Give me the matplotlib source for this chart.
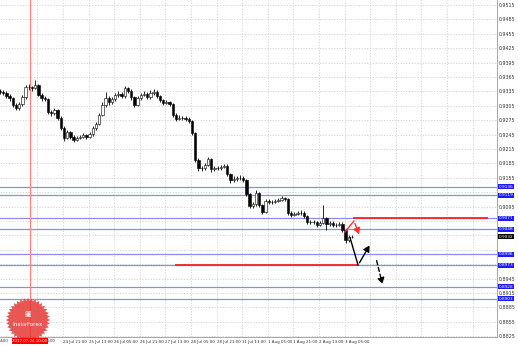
import numpy as np
import matplotlib
matplotlib.use("Agg")
import matplotlib.pyplot as plt
from matplotlib.path import Path

# hourly-ish candles (price)
closes = [0.9334, 0.9332, 0.9325, 0.9321, 0.9307, 0.9300, 0.9309, 0.9323, 0.9344, 0.9344,
          0.9342, 0.9348, 0.9328, 0.9321, 0.9319, 0.9292, 0.9290, 0.9296, 0.9280, 0.9259,
          0.9238, 0.9250, 0.9240, 0.9234, 0.9238, 0.9240, 0.9244, 0.9240, 0.9246, 0.9259,
          0.9267, 0.9286, 0.9307, 0.9321, 0.9313, 0.9319, 0.9328, 0.9330, 0.9325, 0.9342,
          0.9336, 0.9323, 0.9307, 0.9321, 0.9328, 0.9330, 0.9323, 0.9332, 0.9334, 0.9325,
          0.9317, 0.9311, 0.9313, 0.9309, 0.9286, 0.9278, 0.9280, 0.9280, 0.9278, 0.9273,
          0.9248, 0.9192, 0.9175, 0.9175, 0.9182, 0.9194, 0.9173, 0.9175, 0.9175, 0.9178,
          0.9180, 0.9163, 0.9150, 0.9153, 0.9155, 0.9155, 0.9150, 0.9121, 0.9096, 0.9100,
          0.9123, 0.9098, 0.9084, 0.9107, 0.9105, 0.9105, 0.9107, 0.9109, 0.9113, 0.9111,
          0.9082, 0.9078, 0.9080, 0.9082, 0.9082, 0.9075, 0.9063, 0.9063, 0.9063, 0.9057,
          0.9061, 0.9071, 0.9059, 0.9061, 0.9057, 0.9057, 0.9059, 0.9046, 0.9025, 0.9032,
          0.9032]
highs = [0.9340, 0.9338, 0.9336, 0.9329, 0.9324, 0.9311, 0.9313, 0.9327, 0.9348, 0.9350,
         0.9347, 0.9359, 0.9351, 0.9332, 0.9325, 0.9322, 0.9297, 0.9301, 0.9299, 0.9284,
         0.9262, 0.9254, 0.9253, 0.9244, 0.9243, 0.9245, 0.9248, 0.9247, 0.9250, 0.9263,
         0.9271, 0.9290, 0.9312, 0.9333, 0.9325, 0.9323, 0.9332, 0.9335, 0.9334, 0.9346,
         0.9345, 0.9339, 0.9326, 0.9325, 0.9332, 0.9335, 0.9333, 0.9337, 0.9339, 0.9337,
         0.9328, 0.9320, 0.9317, 0.9316, 0.9311, 0.9289, 0.9285, 0.9284, 0.9284, 0.9282,
         0.9276, 0.9250, 0.9196, 0.9180, 0.9186, 0.9198, 0.9197, 0.9180, 0.9179, 0.9182,
         0.9184, 0.9183, 0.9166, 0.9158, 0.9159, 0.9160, 0.9159, 0.9153, 0.9124, 0.9104,
         0.9130, 0.9126, 0.9101, 0.9111, 0.9110, 0.9109, 0.9111, 0.9113, 0.9117, 0.9116,
         0.9113, 0.9086, 0.9084, 0.9086, 0.9087, 0.9085, 0.9078, 0.9068, 0.9067, 0.9066,
         0.9065, 0.9098, 0.9074, 0.9065, 0.9064, 0.9061, 0.9063, 0.9062, 0.9049, 0.9036,
         0.9036]
lows = [0.9329, 0.9327, 0.9321, 0.9315, 0.9303, 0.9296, 0.9297, 0.9305, 0.9320, 0.9338,
        0.9336, 0.9339, 0.9325, 0.9316, 0.9314, 0.9288, 0.9284, 0.9286, 0.9276, 0.9255,
        0.9231, 0.9235, 0.9236, 0.9229, 0.9231, 0.9235, 0.9237, 0.9236, 0.9237, 0.9243,
        0.9255, 0.9264, 0.9283, 0.9303, 0.9307, 0.9309, 0.9316, 0.9324, 0.9321, 0.9322,
        0.9331, 0.9318, 0.9302, 0.9304, 0.9318, 0.9325, 0.9319, 0.9320, 0.9328, 0.9321,
        0.9313, 0.9307, 0.9308, 0.9305, 0.9282, 0.9274, 0.9275, 0.9276, 0.9274, 0.9269,
        0.9244, 0.9187, 0.9170, 0.9170, 0.9172, 0.9179, 0.9168, 0.9170, 0.9171, 0.9172,
        0.9175, 0.9158, 0.9145, 0.9147, 0.9149, 0.9150, 0.9146, 0.9117, 0.9092, 0.9092,
        0.9097, 0.9094, 0.9079, 0.9081, 0.9101, 0.9100, 0.9102, 0.9104, 0.9106, 0.9107,
        0.9078, 0.9074, 0.9075, 0.9077, 0.9078, 0.9071, 0.9059, 0.9058, 0.9059, 0.9052,
        0.9054, 0.9058, 0.9047, 0.9055, 0.9053, 0.9053, 0.9054, 0.9042, 0.9020, 0.9022,
        0.9029]
first_open = 0.9336

x_tick_pos = [11.7, 19.7, 27.7, 35.7, 43.7, 51.7, 59.7, 67.7, 75.7, 83.7, 91.7, 99.7, 107.7,
              115.7, 123.7, 131.7, 139.7, 147.7]
x_tick_labels = ["", "24 Jul 21:00", "25 Jul 13:00", "26 Jul 05:00", "26 Jul 21:00",
                 "27 Jul 13:00", "28 Jul 05:00", "28 Jul 21:00", "31 Jul 13:00", "1 Aug 05:00",
                 "1 Aug 21:00", "2 Aug 13:00", "3 Aug 05:00", "", "", "", "", ""]
y_ticks = [0.9515, 0.9485, 0.9455, 0.9425, 0.9395, 0.9365, 0.9335, 0.9305, 0.9275, 0.9245,
           0.9215, 0.9185, 0.9155, 0.9125, 0.9095, 0.9065, 0.9035, 0.9005, 0.8975, 0.8945,
           0.8915, 0.8885, 0.8855, 0.8825]

blue_levels = [0.9136, 0.9119, 0.9071, 0.9048, 0.8996, 0.8973, 0.8928, 0.8903]
current_price = 0.9032
red_level_hi = (0.9071, 110.3, 152.5)
red_level_lo = (0.8973, 54.7, 111.9)
cursor_bar = 9.4
cursor_label = "2017.07.24 10:00"

red_arrow = ([107.8, 110.6, 112.5], [0.9042, 0.9065, 0.9032])
black_arrow = ([109.4, 111.9, 115.9], [0.9030, 0.8973, 0.9019])
dashed_arrow = ([117.5, 119.7], [0.8988, 0.8928])

opens = [first_open] + closes[:-1]
idx = np.arange(len(closes))

fig = plt.figure(figsize=(5.18, 3.46), dpi=100)
ax = fig.add_axes([0, 9 / 346, 497 / 518, 337 / 346])
ax.set_xlim(0, 497 / 3.2)
ax.set_ylim(0.88233, 0.95254)

# price scale labels hidden where a level box sits on top of them
tags = blue_levels + [current_price]
y_labels = []
for v in y_ticks:
    if min(abs(v - t) for t in tags) < 0.0011:
        y_labels.append("")
    else:
        y_labels.append("%.4f" % v)

ax.set_xticks(x_tick_pos)
ax.set_xticklabels(x_tick_labels, ha="left", fontsize=2.9, color="#333333")
ax.set_yticks(y_ticks)
ax.set_yticklabels(y_labels, fontsize=3.4, color="#333333")
ax.yaxis.tick_right()
ax.tick_params(axis="both", length=0, pad=1.5)
ax.tick_params(axis="x", pad=2)
ax.grid(True, color="#cccccc", linestyle=(0, (2, 2)), linewidth=0.5)
for s in ["left", "top"]:
    ax.spines[s].set_visible(False)
for s in ["right", "bottom"]:
    ax.spines[s].set_color("#999999")
    ax.spines[s].set_linewidth(0.6)

# level lines
for lv in blue_levels:
    ax.axhline(lv, color="#8c8cf0", linewidth=0.9, zorder=2)
    ax.text(1.004, lv, "%.4f" % lv, transform=ax.get_yaxis_transform(), fontsize=3.1,
            color="white", va="center", ha="left", clip_on=False, zorder=6,
            bbox=dict(boxstyle="square,pad=0.12", facecolor="#1a1aff", edgecolor="none"))
ax.text(1.004, current_price, "%.4f" % current_price, transform=ax.get_yaxis_transform(),
        fontsize=3.1, color="white", va="center", ha="left", clip_on=False, zorder=6,
        bbox=dict(boxstyle="square,pad=0.12", facecolor="black", edgecolor="none"))

ax.hlines(red_level_hi[0], red_level_hi[1], red_level_hi[2], color="#ff2020", linewidth=1.3, zorder=3)
ax.hlines(red_level_lo[0], red_level_lo[1], red_level_lo[2], color="#ff2020", linewidth=1.3, zorder=3)

# cursor line
ax.axvline(cursor_bar, color="#ff8080", linewidth=0.8, zorder=2)

# candles
ax.vlines(idx, lows, highs, color="black", linewidth=0.6, zorder=4)
up = np.array(closes) >= np.array(opens)
body = np.array(closes) - np.array(opens)
ax.bar(idx, body, bottom=opens, width=0.7, color=np.where(up, "white", "black"),
       edgecolor="black", linewidth=0.4, zorder=5)

# forecast arrows
ax.plot(red_arrow[0][:-1], red_arrow[1][:-1], color="#ff3030", linewidth=1.0, zorder=6)
ax.annotate("", xy=(red_arrow[0][-1], red_arrow[1][-1]), xytext=(red_arrow[0][-2], red_arrow[1][-2]),
            arrowprops=dict(arrowstyle="-|>,head_length=0.35,head_width=0.2", color="#ff3030", lw=1.0),
            zorder=6)
ax.plot(black_arrow[0][:-1], black_arrow[1][:-1], color="black", linewidth=1.0, zorder=6)
ax.annotate("", xy=(black_arrow[0][-1], black_arrow[1][-1]), xytext=(black_arrow[0][-2], black_arrow[1][-2]),
            arrowprops=dict(arrowstyle="-|>,head_length=0.35,head_width=0.2", color="black", lw=1.0),
            zorder=6)
ax.annotate("", xy=(dashed_arrow[0][-1], dashed_arrow[1][-1]), xytext=(dashed_arrow[0][0], dashed_arrow[1][0]),
            arrowprops=dict(arrowstyle="-|>,head_length=0.35,head_width=0.2", color="black", lw=1.0,
                            linestyle=(0, (3, 2))),
            zorder=6)

# cursor label on time axis
fig.text(30 / 518, 1 - 341 / 346, cursor_label, fontsize=2.9, color="white", ha="center", va="center",
         zorder=10, bbox=dict(boxstyle="square,pad=0.15", facecolor="#ff0000", edgecolor="none"))
fig.text(0.0, 1 - 341 / 346, "4:00", fontsize=2.9, color="#333333", ha="left", va="center")
fig.text(47 / 518, 1 - 341 / 346, "5:00", fontsize=2.9, color="#333333", ha="left", va="center")

# InstaForex badge
n = 72
ang = np.linspace(0, 2 * np.pi, n, endpoint=False)
rad = np.where(np.arange(n) % 2 == 0, 1.0, 0.87)
verts = np.column_stack([rad * np.cos(ang), rad * np.sin(ang)])
verts = np.vstack([verts, verts[:1]])
codes = [Path.MOVETO] + [Path.LINETO] * (n - 1) + [Path.CLOSEPOLY]
fig.patches.append(matplotlib.patches.PathPatch(
    Path(verts * 22 + np.array([28, 346 - 320]), codes), transform=None,
    facecolor="#e53935", edgecolor="none", alpha=0.85, zorder=9))
fig.text(28 / 518, 1 - 325 / 346, "InstaForex", fontsize=4.2, color="white", ha="center", va="center", zorder=11)
fig.text(28 / 518, 1 - 314 / 346, "\u25a3", fontsize=5, color="white", ha="center", va="center", zorder=11)

fig.savefig("out.png", dpi=100)
